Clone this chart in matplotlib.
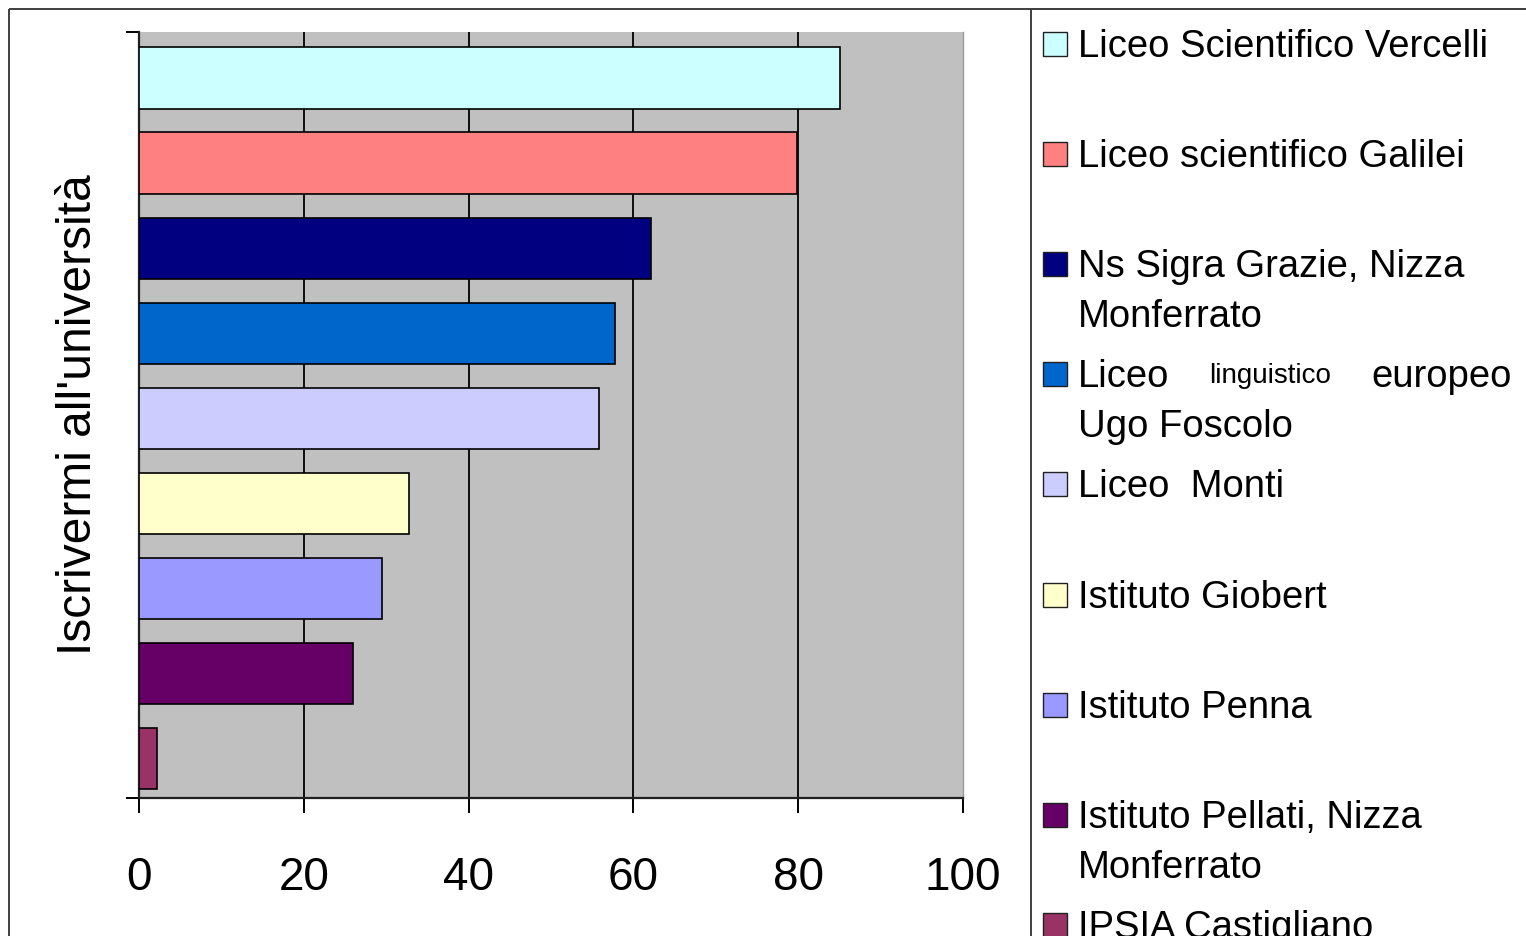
import numpy as np
import matplotlib
matplotlib.use("Agg")
import matplotlib.pyplot as plt
from matplotlib.patches import Rectangle

# --- data ---
schools = [
    "Liceo Scientifico Vercelli",
    "Liceo scientifico Galilei",
    "Ns Sigra Grazie, Nizza\nMonferrato",
    "Liceo linguistico europeo\nUgo Foscolo",
    "Liceo  Monti",
    "Istituto Giobert",
    "Istituto Penna",
    "Istituto Pellati, Nizza\nMonferrato",
    "IPSIA Castigliano",
]
iscritti = [85.1, 79.9, 62.1, 57.8, 55.8, 32.8, 29.5, 26.0, 2.2]
colors = ["#CCFFFF", "#FF8080", "#000080", "#0066CC", "#CCCCFF",
          "#FFFFCC", "#9999FF", "#660066", "#993366"]
x_ticks = [0, 20, 40, 60, 80, 100]
y_label = "Iscrivermi all'università"

W, H = 1526, 936
fig = plt.figure(figsize=(W / 100, H / 100), dpi=100)
fig.patch.set_facecolor("white")
font = ["Liberation Sans", "DejaVu Sans"]

# plot area in pixel terms -> figure fractions
left, right, top, bottom = 139, 963, 32, 798
ax = fig.add_axes([left / W, 1 - bottom / H, (right - left) / W, (bottom - top) / H])
ax.set_facecolor("#C0C0C0")

pos = np.arange(len(schools))
ax.barh(pos, iscritti, height=0.72, color=colors, edgecolor="black",
        linewidth=1.2, zorder=3)
# bars sit a touch low in their slots in the original
shift = -0.04
lo, hi = -0.5 + shift, len(schools) - 0.5 + shift
ax.set_ylim(hi, lo)
ax.set_xlim(0, 100)

# grid only on the inner ticks
ax.set_xticks(x_ticks)
ax.set_xticklabels([str(t) for t in x_ticks], family=font, fontsize=33)
ax.xaxis.grid(True, color="black", linewidth=1.3, zorder=1)
ax.set_axisbelow(True)
glines = ax.get_xgridlines()
glines[0].set_visible(False)
glines[-1].set_visible(False)

ax.set_yticks([lo, hi])
ax.set_yticklabels([])
ax.tick_params(axis="x", direction="out", length=11, width=1.4, pad=31, colors="black")
ax.tick_params(axis="y", direction="out", length=9.5, width=1.4)

for s in ["left", "bottom"]:
    ax.spines[s].set_linewidth(1.6)
    ax.spines[s].set_color("#202020")
ax.spines["top"].set_visible(False)
ax.spines["right"].set_color("#9A9A9A")
ax.spines["right"].set_linewidth(1.0)

ax.set_ylabel(y_label, family=font, fontsize=34.5)
ax.yaxis.set_label_coords((101 - left) / (right - left), 0.5)

# --- frame and legend (overlay in pixel coords) ---
ov = fig.add_axes([0, 0, 1, 1], zorder=10)
ov.set_xlim(0, W)
ov.set_ylim(H, 0)
ov.axis("off")
ov.patch.set_alpha(0)

ov.add_patch(Rectangle((9, 9), W + 20, H + 20, fill=False, edgecolor="#404040", linewidth=1.4))
ov.add_patch(Rectangle((1031, 9), W + 20, H + 20, fill=False, edgecolor="#404040", linewidth=1.4))

fs = 27.5
renderer = fig.canvas.get_renderer()
for i, (name, c) in enumerate(zip(schools, colors)):
    yc = 44 + 110.1 * i
    ov.add_patch(Rectangle((1043, yc - 12), 24, 24, facecolor=c, edgecolor="#202020",
                           linewidth=1.0))
    for j, line in enumerate(name.split("\n")):
        yl = yc + 50 * j
        if "linguistico" in line:
            # the original mixes a smaller word into this entry
            x = 1078
            for word in line.split():
                size = 20 if word == "linguistico" else fs
                t = ov.text(x, yl - 1, word, fontsize=size, family=font,
                            va="center_baseline", ha="left")
                bb = t.get_window_extent(renderer)
                x += bb.width + 40
        else:
            ov.text(1078, yl - 1, line, fontsize=fs, family=font,
                    va="center_baseline", ha="left")

fig.savefig("out.png", dpi=100)
